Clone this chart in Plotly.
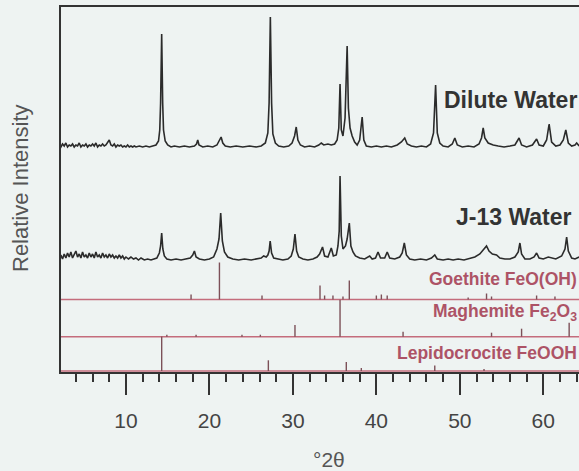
import plotly.graph_objects as go

# ---------------- data ----------------
# two-theta (deg) and intensity above each trace's own baseline (arb. px units)
dilute_x = [2.0, 2.2, 2.4, 2.6, 2.8, 3.0, 3.2, 3.4, 3.6, 3.8, 4.0, 4.2, 4.4, 4.6, 4.8, 5.0,
            5.2, 5.4, 5.6, 5.8, 6.0, 6.2, 6.4, 6.6, 6.8, 7.0, 7.2, 7.4, 7.6, 7.8, 8.0, 8.2,
            8.4, 8.6, 8.8, 9.0, 9.2, 9.4, 9.6, 9.8, 10.0, 10.2, 10.4, 10.6, 10.8, 11.0, 11.2,
            11.6, 12.0, 12.4, 12.8, 13.2,
            13.6, 13.9, 14.05, 14.15, 14.28, 14.4, 14.5, 14.7, 15.0, 15.4,
            15.8, 16.4, 17.0, 17.6, 18.2, 18.45, 18.6, 18.75, 19.2, 19.8, 20.4, 20.9, 21.2,
            21.4, 21.6, 21.9, 22.5, 23.2, 24.0, 24.8, 25.6, 26.2, 26.7, 27.0, 27.15, 27.3,
            27.45, 27.6, 27.9, 28.3, 28.9, 29.5, 29.9, 30.2, 30.4, 30.6, 30.9, 31.4, 32.0,
            32.6, 33.1, 33.4, 33.7, 34.2, 34.6, 35.0, 35.3, 35.5, 35.65, 35.8, 36.0, 36.25,
            36.5, 36.65, 36.85, 37.1, 37.4, 37.7, 38.0, 38.3, 38.5, 38.8, 39.4, 40.0, 40.6,
            41.2, 41.8, 42.5, 43.0, 43.4, 43.7, 44.2, 44.8, 45.4, 46.0, 46.5, 46.85, 47.1,
            47.3, 47.6, 48.0, 48.6, 49.1, 49.4, 49.7, 50.3, 51.0, 51.7, 52.3, 52.6, 52.8,
            53.0, 53.4, 54.0, 54.6, 55.3, 56.0, 56.6, 57.1, 57.4, 58.0, 58.7, 59.2, 59.5,
            60.0, 60.4, 60.7, 61.0, 61.5, 62.0, 62.4, 62.7, 63.0, 63.4, 63.8, 64.0, 64.3]
dilute_y = [3, 1, 4, 2, 5, 1, 3, 2, 4, 1, 3, 2, 5, 1, 3, 2,
            4, 1, 3, 2, 4, 2, 5, 1, 3, 2, 4, 2, 3, 6, 8, 3,
            2, 4, 1, 3, 2, 3, 1, 2, 1, 3, 1, 2, 1, 2, 1,
            2, 1, 2, 1, 2,
            3, 7, 18, 45, 114, 45, 18, 7, 3, 1,
            2, 1, 2, 1, 2, 4, 8, 3, 1, 2, 1, 3, 7,
            11, 5, 2, 1, 2, 1, 2, 1, 2, 5, 15, 45, 131,
            45, 14, 5, 2, 1, 2, 5, 12, 21, 8, 3, 1, 2,
            1, 3, 5, 3, 4, 3, 4, 8, 20, 64, 18, 12, 30,
            102, 40, 20, 12, 6, 3, 8, 31, 8, 2, 1, 2, 1,
            2, 1, 3, 6, 10, 4, 2, 1, 2, 1, 4, 15, 63,
            15, 5, 2, 1, 4, 10, 3, 1, 2, 1, 4, 10, 20,
            10, 5, 3, 2, 1, 2, 3, 10, 3, 1, 3, 9, 3,
            2, 8, 24, 6, 2, 3, 8, 18, 5, 2, 3, 5, 2]

j13_x = [2.0, 2.2, 2.4, 2.6, 2.8, 3.0, 3.2, 3.4, 3.6, 3.8, 4.0, 4.2, 4.4, 4.6, 4.8, 5.0,
         5.2, 5.4, 5.6, 5.8, 6.0, 6.2, 6.4, 6.6, 6.8, 7.0, 7.2, 7.4, 7.6, 7.8, 8.0, 8.2,
         8.4, 8.6, 8.8, 9.0, 9.2, 9.4, 9.6, 9.8, 10.0, 10.3, 10.6, 10.9, 11.2, 11.5, 11.8,
         12.2, 12.6, 13.0, 13.4,
         13.7, 14.0, 14.15, 14.28, 14.42, 14.6, 14.9,
         15.4, 16.0, 16.6, 17.2, 17.7, 18.0, 18.2, 18.4, 18.8, 19.4, 20.0, 20.5, 20.9,
         21.15, 21.35, 21.55, 21.8, 22.2, 22.8, 23.5, 24.2, 25.0, 25.7, 26.2, 26.5, 26.8,
         27.0, 27.15, 27.28, 27.45, 27.7, 28.2, 28.8, 29.4, 29.8, 30.05, 30.25, 30.45,
         30.7, 31.2, 31.8, 32.4, 32.9, 33.2, 33.55, 33.8, 34.2, 34.6, 34.85, 35.2, 35.4,
         35.55, 35.65, 35.8, 36.0, 36.3, 36.5, 36.76, 36.95, 37.2, 37.5, 38.0, 38.6, 39.2,
         39.5, 39.9, 40.2, 40.5, 41.0, 41.3, 41.6, 42.2, 42.8, 43.1, 43.35, 43.6, 44.0,
         44.6, 45.3, 46.0, 46.6, 47.0, 47.3, 48.0, 48.6, 49.2, 49.8, 50.5, 51.2, 51.8,
         52.4, 52.9, 53.2, 53.5, 53.9, 54.4, 54.8, 55.4, 56.0, 56.6, 57.0, 57.2, 57.4,
         57.8, 58.4, 58.9, 59.2, 59.5, 60.0, 60.6, 61.0, 61.5, 62.2, 62.6, 62.8, 63.0,
         63.4, 63.8, 64.3]
j13_y = [3, 6, 2, 7, 3, 8, 4, 9, 3, 6, 10, 4, 7, 3, 9, 4,
         6, 3, 8, 4, 7, 3, 9, 4, 6, 3, 8, 4, 6, 3, 7, 4,
         6, 3, 5, 3, 6, 3, 5, 2, 4, 2, 4, 2, 3, 1, 3,
         1, 2, 1, 2,
         3, 8, 15, 28, 12, 5, 2,
         1, 2, 1, 2, 3, 6, 10, 4, 2, 1, 2, 4, 12,
         22, 48, 20, 9, 4, 2, 1, 2, 1, 2, 3, 5, 4,
         6, 10, 20, 8, 3, 2, 1, 2, 5, 12, 27, 10,
         4, 2, 1, 2, 4, 7, 14, 5, 4, 13, 5, 6, 15,
         30, 85, 25, 12, 15, 22, 38, 15, 9, 5, 3, 2, 5,
         2, 3, 9, 3, 3, 9, 3, 2, 4, 8, 18, 6, 2,
         1, 2, 1, 3, 6, 2, 1, 2, 1, 2, 1, 3, 4,
         7, 12, 15, 10, 7, 6, 3, 2, 2, 4, 9, 18, 7,
         2, 2, 4, 8, 3, 2, 4, 3, 2, 5, 12, 24, 10,
         3, 2, 4]

# reference stick patterns (position deg, stick height px units)
goethite_pos = [17.8, 21.2, 26.3, 33.25, 33.8, 34.8, 36.0, 36.76, 40.0, 40.6, 41.3, 51.0, 53.2, 53.8, 59.2, 61.4]
goethite_int = [5, 37, 4, 14, 4, 4, 3, 19, 4, 5, 4, 2, 6, 3, 4, 3]
maghemite_pos = [14.9, 18.4, 23.9, 26.1, 30.25, 35.65, 43.2, 53.8, 57.4, 63.1]
maghemite_int = [2, 2, 2, 2, 11.7, 37, 5, 4, 8, 14]
lepido_pos = [14.28, 27.06, 36.4, 38.2, 47.0, 52.9]
lepido_int = [34.5, 10.7, 9, 3, 5.5, 2]

# vertical offsets of each pattern (baselines)
off_dilute, off_j13, off_goe, off_mag, off_lep = 224, 111, 72.5, 35.3, 1.0

x_ticks = [10, 20, 30, 40, 50, 60]
x_range = [2.217, 64.28]

# ---------------- styles ----------------
BG = "#eef3f2"
TRACE = "#2b2b2b"
RED = "#c46c7c"
STICK = "#7c5058"
REDTXT = "#ad5366"
FONT = "Liberation Sans, Arial, sans-serif"

fig = go.Figure()

fig.add_trace(go.Scatter(x=dilute_x, y=[v + off_dilute for v in dilute_y], mode="lines",
                         line=dict(color=TRACE, width=1.6), hoverinfo="skip"))
fig.add_trace(go.Scatter(x=j13_x, y=[v + off_j13 for v in j13_y], mode="lines",
                         line=dict(color=TRACE, width=1.6), hoverinfo="skip"))


def sticks(pos, ints, base):
    xs, ys = [], []
    for p, h in zip(pos, ints):
        xs += [p, p, None]
        ys += [base, base + h, None]
    return xs, ys


for pos, ints, base in [(goethite_pos, goethite_int, off_goe),
                        (maghemite_pos, maghemite_int, off_mag),
                        (lepido_pos, lepido_int, off_lep)]:
    fig.add_trace(go.Scatter(x=[x_range[0], x_range[1]], y=[base, base], mode="lines",
                             line=dict(color=RED, width=1.5), hoverinfo="skip"))
    sx, sy = sticks(pos, ints, base)
    fig.add_trace(go.Scatter(x=sx, y=sy, mode="lines",
                             line=dict(color=STICK, width=1.4), hoverinfo="skip"))

labels = [
    ("Dilute Water", 64.2, 272, "#333333", 23),
    ("J-13 Water", 63.56, 155, "#333333", 23),
    ("Goethite FeO(OH)", 64.1, 93, REDTXT, 17.5),
    ("Maghemite Fe<sub>2</sub>O<sub>3</sub>", 64.2, 60, REDTXT, 17.5),
    ("Lepidocrocite FeOOH", 64.1, 19, REDTXT, 17.5),
]
for txt, xx, yy, col, fs in labels:
    fig.add_annotation(x=xx, y=yy, xref="x", yref="y", text="<b>" + txt + "</b>",
                       showarrow=False, xanchor="right", yanchor="middle", borderpad=0,
                       font=dict(family=FONT, size=fs, color=col))

fig.add_annotation(x=(20 - 61) / 518, y=(372 - 188) / 365, xref="paper", yref="paper",
                   text="Relative Intensity", textangle=-90, showarrow=False,
                   xanchor="center", yanchor="middle",
                   font=dict(family=FONT, size=22, color="#555555"))
fig.add_annotation(x=(329 - 61) / 518, y=(372 - 459) / 365, xref="paper", yref="paper",
                   text="°2θ", showarrow=False, xanchor="center", yanchor="middle",
                   font=dict(family=FONT, size=21, color="#555555"))

fig.update_layout(
    width=579, height=471,
    margin=dict(l=61, r=0, t=7, b=99, pad=0),
    paper_bgcolor=BG, plot_bgcolor=BG,
    showlegend=False,
    xaxis=dict(range=x_range, showgrid=False, zeroline=False,
               showline=True, linecolor="#333333", linewidth=2, mirror=True,
               ticks="outside", ticklen=21, tickwidth=2, tickcolor="#333333",
               tickvals=x_ticks, ticktext=[str(t) for t in x_ticks],
               tickfont=dict(family=FONT, size=21, color="#444444"),
               ticklabelstandoff=8,
               minor=dict(ticks="outside", ticklen=8, tickwidth=1.5, tickcolor="#333333",
                          dtick=2, tick0=0, showgrid=False)),
    yaxis=dict(range=[0, 365], showgrid=False, zeroline=False, showticklabels=False,
               showline=True, linecolor="#333333", linewidth=2, mirror=False, ticks=""),
)

fig.write_html("out.html", config={"displayModeBar": False},
               post_script="document.body.style.margin='0px';"
                           "document.body.style.overflow='hidden';"
                           "document.body.style.background='" + BG + "';")
